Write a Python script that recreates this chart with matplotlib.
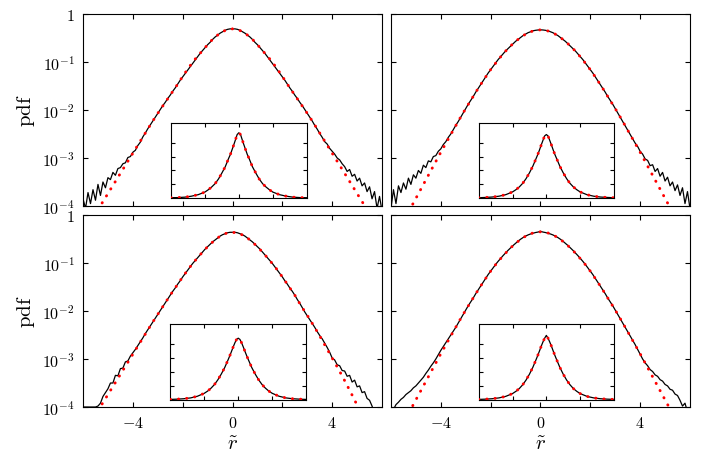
import numpy as np
import matplotlib
matplotlib.use('Agg')
import matplotlib.pyplot as plt
from matplotlib.ticker import NullLocator

plt.rcParams['mathtext.fontset'] = 'cm'

# x grid of the measured pdf (step 0.1) and of the fitted curve (step 0.25)
x_data = np.linspace(-6.0, 6.0, 121)
x_fit = np.linspace(-5.75, 5.75, 47)

# log10(pdf): TL, TR, BL, BR
logpdf_tl = [-3.85, -4.05, -3.72, -3.95, -3.66, -3.88, -3.55, -3.78, -3.50, -3.62,
             -3.41, -3.45, -3.30, -3.36, -3.22, -3.20, -3.12, -3.10, -2.99, -2.97,
             -2.88, -2.84, -2.74, -2.67, -2.56, -2.48, -2.39, -2.31, -2.23, -2.15,
             -2.07, -1.99, -1.91, -1.84, -1.76, -1.69, -1.61, -1.54, -1.46, -1.38,
             -1.31, -1.24, -1.17, -1.10, -1.03, -0.96, -0.89, -0.82, -0.76, -0.70,
             -0.64, -0.59, -0.53, -0.48, -0.44, -0.40, -0.37, -0.34, -0.32, -0.31,
             -0.31,
             -0.31, -0.32, -0.34, -0.37, -0.40, -0.44, -0.48, -0.53, -0.59, -0.64,
             -0.70, -0.76, -0.82, -0.89, -0.96, -1.03, -1.10, -1.17, -1.24, -1.31,
             -1.38, -1.46, -1.54, -1.61, -1.69, -1.76, -1.84, -1.91, -1.99, -2.07,
             -2.15, -2.23, -2.32, -2.40, -2.49, -2.57, -2.66, -2.71, -2.80, -2.86,
             -2.92, -3.00, -3.04, -3.12, -3.18, -3.28, -3.24, -3.38, -3.34, -3.48,
             -3.42, -3.58, -3.52, -3.70, -3.60, -3.85, -3.70, -4.05, -3.80, -4.10]
logpdf_tr = [-4.05, -3.66, -3.95, -3.58, -3.72, -3.52, -3.65, -3.42, -3.55, -3.35,
             -3.42, -3.26, -3.32, -3.15, -3.20, -3.06, -3.08, -2.97, -2.95, -2.86,
             -2.81, -2.72, -2.66, -2.57, -2.50, -2.41, -2.32, -2.24, -2.15, -2.06,
             -1.97, -1.88, -1.80, -1.72, -1.63, -1.55, -1.47, -1.39, -1.31, -1.23,
             -1.16, -1.09, -1.02, -0.95, -0.89, -0.83, -0.77, -0.72, -0.67, -0.62,
             -0.57, -0.53, -0.49, -0.45, -0.42, -0.39, -0.37, -0.35, -0.34, -0.333,
             -0.33,
             -0.333, -0.34, -0.35, -0.37, -0.39, -0.42, -0.45, -0.49, -0.53, -0.57,
             -0.62, -0.67, -0.72, -0.77, -0.83, -0.89, -0.95, -1.02, -1.09, -1.16,
             -1.23, -1.31, -1.39, -1.47, -1.55, -1.63, -1.72, -1.80, -1.88, -1.97,
             -2.06, -2.15, -2.24, -2.33, -2.42, -2.51, -2.60, -2.69, -2.76, -2.86,
             -2.92, -3.02, -3.05, -3.16, -3.14, -3.28, -3.22, -3.38, -3.30, -3.48,
             -3.40, -3.58, -3.50, -3.68, -3.56, -3.78, -3.62, -3.95, -3.70, -4.05]
logpdf_bl = [-4.00, -4.00, -4.00, -4.00, -4.00, -4.00, -3.98, -3.92, -3.78, -3.70,
             -3.62, -3.50, -3.50, -3.34, -3.35, -3.20, -3.19, -3.06, -3.04, -2.94,
             -2.87, -2.80, -2.72, -2.64, -2.56, -2.47, -2.39, -2.31, -2.23, -2.15,
             -2.07, -1.99, -1.91, -1.83, -1.75, -1.67, -1.59, -1.52, -1.44, -1.37,
             -1.29, -1.22, -1.15, -1.08, -1.01, -0.95, -0.89, -0.83, -0.77, -0.71,
             -0.66, -0.61, -0.56, -0.52, -0.48, -0.44, -0.41, -0.39, -0.37, -0.36,
             -0.36,
             -0.36, -0.37, -0.39, -0.41, -0.44, -0.48, -0.52, -0.56, -0.61, -0.66,
             -0.71, -0.77, -0.83, -0.89, -0.95, -1.01, -1.08, -1.15, -1.22, -1.29,
             -1.37, -1.44, -1.52, -1.59, -1.67, -1.76, -1.84, -1.93, -2.02, -2.10,
             -2.18, -2.26, -2.34, -2.43, -2.51, -2.58, -2.67, -2.76, -2.86, -2.98,
             -3.02, -3.12, -3.14, -3.24, -3.25, -3.36, -3.34, -3.48, -3.44, -3.58,
             -3.56, -3.70, -3.68, -3.82, -3.86, -3.98, -4.15, -4.30, -4.40, -4.50]
logpdf_br = [-4.15, -4.05, -3.95, -3.90, -3.84, -3.80, -3.74, -3.70, -3.66, -3.60,
             -3.56, -3.50, -3.44, -3.38, -3.30, -3.23, -3.15, -3.08, -3.00, -2.91,
             -2.82, -2.74, -2.66, -2.58, -2.50, -2.42, -2.34, -2.25, -2.16, -2.07,
             -1.98, -1.89, -1.81, -1.73, -1.64, -1.56, -1.48, -1.40, -1.32, -1.24,
             -1.17, -1.10, -1.03, -0.965, -0.905, -0.845, -0.79, -0.735, -0.685, -0.635,
             -0.59, -0.545, -0.505, -0.47, -0.44, -0.415, -0.395, -0.38, -0.365, -0.355,
             -0.34,
             -0.355, -0.365, -0.38, -0.395, -0.415, -0.44, -0.47, -0.505, -0.545, -0.59,
             -0.635, -0.685, -0.735, -0.79, -0.845, -0.905, -0.965, -1.03, -1.10, -1.17,
             -1.24, -1.32, -1.40, -1.48, -1.56, -1.64, -1.73, -1.81, -1.89, -1.98,
             -2.07, -2.16, -2.25, -2.34, -2.43, -2.52, -2.61, -2.70, -2.80, -2.90,
             -3.00, -3.08, -3.14, -3.22, -3.26, -3.33, -3.36, -3.43, -3.46, -3.53,
             -3.56, -3.63, -3.65, -3.73, -3.76, -3.86, -3.98, -3.92, -4.10, -4.20]

# log10 of the fitted curve (red dots)
logfit_tl = [-4.37, -4.16, -3.95, -3.74, -3.53, -3.32, -3.11, -2.90, -2.69, -2.48,
             -2.27, -2.07, -1.88, -1.69, -1.50, -1.30, -1.11, -0.94, -0.79, -0.64,
             -0.50, -0.40, -0.33, -0.31, -0.33, -0.40, -0.50, -0.64, -0.79, -0.94,
             -1.11, -1.30, -1.50, -1.69, -1.88, -2.07, -2.27, -2.48, -2.69, -2.90,
             -3.11, -3.32, -3.53, -3.74, -3.95, -4.16, -4.37]
logfit_tr = [-4.56, -4.32, -4.08, -3.84, -3.60, -3.36, -3.12, -2.88, -2.65, -2.42,
             -2.19, -1.97, -1.76, -1.55, -1.35, -1.16, -0.99, -0.83, -0.69, -0.57,
             -0.47, -0.39, -0.345, -0.33, -0.345, -0.39, -0.47, -0.57, -0.69, -0.83,
             -0.99, -1.16, -1.35, -1.55, -1.76, -1.97, -2.19, -2.42, -2.65, -2.88,
             -3.12, -3.36, -3.60, -3.84, -4.08, -4.32, -4.56]
logfit_bl = [-4.37, -4.16, -3.95, -3.74, -3.53, -3.32, -3.11, -2.90, -2.69, -2.48,
             -2.27, -2.07, -1.87, -1.67, -1.48, -1.29, -1.11, -0.95, -0.80, -0.66,
             -0.54, -0.44, -0.38, -0.36, -0.38, -0.44, -0.54, -0.66, -0.80, -0.95,
             -1.11, -1.29, -1.48, -1.67, -1.89, -2.09, -2.30, -2.52, -2.75, -2.98,
             -3.21, -3.45, -3.70, -3.96, -4.22, -4.48, -4.74]
logfit_br = [-4.57, -4.33, -4.09, -3.85, -3.61, -3.37, -3.13, -2.89, -2.66, -2.43,
             -2.20, -1.98, -1.77, -1.56, -1.36, -1.17, -1.00, -0.85, -0.71, -0.59,
             -0.49, -0.41, -0.365, -0.35, -0.365, -0.41, -0.49, -0.59, -0.71, -0.85,
             -1.00, -1.17, -1.36, -1.56, -1.77, -1.98, -2.20, -2.43, -2.66, -2.89,
             -3.13, -3.37, -3.61, -3.85, -4.09, -4.33, -4.57]

# insets: linear pdf, read in units of the inset tick spacing
x_ins = [-2.0, -1.8, -1.6, -1.4, -1.2, -1.0, -0.9, -0.8, -0.7, -0.6, -0.5, -0.4,
         -0.3, -0.25, -0.2, -0.15, -0.1, -0.05, 0.0, 0.05, 0.1, 0.15, 0.2, 0.25,
         0.3, 0.4, 0.5, 0.6, 0.7, 0.8, 0.9, 1.0, 1.2, 1.4, 1.6, 1.8, 2.0]
ins_tl = [0.02, 0.03, 0.06, 0.13, 0.24, 0.43, 0.60, 0.80, 1.04, 1.38, 1.81, 2.27,
          2.88, 3.15, 3.50, 3.85, 4.22, 4.60, 4.73, 4.60, 4.22, 3.85, 3.50, 3.15,
          2.88, 2.27, 1.81, 1.38, 1.04, 0.80, 0.60, 0.43, 0.24, 0.13, 0.06, 0.03, 0.02]
ins_tr = [0.02, 0.04, 0.07, 0.13, 0.24, 0.44, 0.60, 0.80, 1.06, 1.40, 1.82, 2.30,
          2.88, 3.17, 3.50, 3.85, 4.18, 4.50, 4.60, 4.50, 4.18, 3.85, 3.50, 3.17,
          2.88, 2.30, 1.82, 1.40, 1.06, 0.80, 0.60, 0.44, 0.24, 0.13, 0.07, 0.04, 0.02]
ins_bl = [0.02, 0.04, 0.07, 0.13, 0.25, 0.46, 0.62, 0.83, 1.09, 1.43, 1.84, 2.30,
          2.86, 3.15, 3.46, 3.78, 4.08, 4.33, 4.42, 4.33, 4.08, 3.78, 3.46, 3.15,
          2.86, 2.30, 1.84, 1.43, 1.09, 0.83, 0.62, 0.46, 0.25, 0.13, 0.07, 0.04, 0.02]
ins_br = [0.02, 0.04, 0.07, 0.13, 0.24, 0.44, 0.60, 0.80, 1.07, 1.41, 1.83, 2.32,
          2.90, 3.20, 3.52, 3.85, 4.15, 4.42, 4.62, 4.42, 4.15, 3.85, 3.52, 3.20,
          2.90, 2.32, 1.83, 1.41, 1.07, 0.80, 0.60, 0.44, 0.24, 0.13, 0.07, 0.04, 0.02]

panels = [
    ([0.1176, 0.550, 0.4235, 0.4174], [0.2422, 0.5674, 0.1922, 0.1637], logpdf_tl, logfit_tl, ins_tl),
    ([0.5538, 0.550, 0.4235, 0.4174], [0.6780, 0.5674, 0.1917, 0.1637], logpdf_tr, logfit_tr, ins_tr),
    ([0.1176, 0.113, 0.4235, 0.4174], [0.2412, 0.1289, 0.1925, 0.1652], logpdf_bl, logfit_bl, ins_bl),
    ([0.5538, 0.113, 0.4235, 0.4174], [0.6780, 0.1289, 0.1917, 0.1652], logpdf_br, logfit_br, ins_br),
]

red_dots = dict(color='red', linewidth=2.1, linestyle=(0, (0.1, 2.7)),
                dash_capstyle='round')

fig = plt.figure(figsize=(7.06, 4.6), dpi=100)

for i, (pos, ipos, logpdf, logfit, ins) in enumerate(panels):
    ax = fig.add_axes(pos)
    ax.plot(x_data, 10 ** np.array(logpdf), color='black', linewidth=0.9, zorder=2)
    ax.plot(x_fit, 10 ** np.array(logfit), zorder=3, **red_dots)
    ax.set_yscale('log')
    ax.set_xlim(-6, 6)
    ax.set_ylim(1e-4, 1)
    ax.set_xticks([-4, -2, 0, 2, 4])
    ax.set_yticks([1e-4, 1e-3, 1e-2, 1e-1, 1])
    ax.yaxis.set_minor_locator(NullLocator())
    ax.tick_params(direction='in', top=True, right=True, length=3.5, width=0.8,
                   labelsize=11.5, pad=6)
    for s in ax.spines.values():
        s.set_linewidth(0.8)

    if i % 2 == 0:
        ax.set_yticklabels([r'$10^{-4}$', r'$10^{-3}$', r'$10^{-2}$', r'$10^{-1}$', r'$1$'])
        ax.set_ylabel(r'$\mathrm{pdf}$', fontsize=15, labelpad=4)
    else:
        ax.set_yticklabels([])
    if i >= 2:
        ax.set_xticklabels([r'$-4$', '', r'$0$', '', r'$4$'])
        ax.set_xlabel(r'$\tilde{r}$', fontsize=15, labelpad=2)
    else:
        ax.set_xticklabels([])

    # inset, linear scale
    axi = fig.add_axes(ipos)
    axi.plot(x_ins, ins, color='black', linewidth=0.9, zorder=2)
    axi.plot(x_ins, ins, zorder=3, **red_dots)
    axi.set_xlim(-2, 2)
    axi.set_ylim(0, 5.46)
    axi.set_xticks([-1, 0, 1])
    axi.set_yticks([1, 2, 3, 4])
    axi.set_xticklabels([])
    axi.set_yticklabels([])
    axi.tick_params(direction='in', top=True, right=True, length=3, width=0.8)
    for s in axi.spines.values():
        s.set_linewidth(0.8)

fig.savefig('out.png', dpi=100)
